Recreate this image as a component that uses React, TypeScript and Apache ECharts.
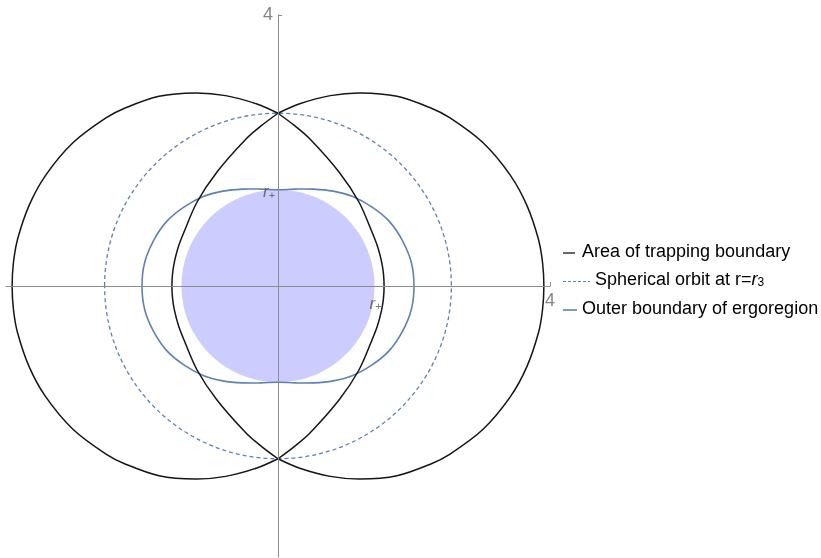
import React, { useEffect, useRef } from 'react';
import * as echarts from 'echarts';

// ---- data (units of M) ----
const axisMin = -4;
const axisMax = 4;
const tickValues = [4];
const tickLabelPoints: [number, number][] = [[4, 0], [0, 4]];
const horizonRadius = 1.42;
const sphericalOrbitRadius = 2.55;

// Right-hand trapping boundary, upper half. It is made of two arcs that meet on the
// z axis: an outer arc (from the crossing point over the top to the equator) ...
const trapOuterX = [0, 0.32, 0.77, 1.21, 1.75, 2.24, 2.53, 3.02, 3.42, 3.66, 3.83, 3.89, 3.91];
const trapOuterY = [2.55, 2.69, 2.81, 2.85, 2.8, 2.63, 2.48, 2.11, 1.63, 1.19, 0.69, 0.35, 0];
// ... and an inner arc (from the crossing point down to the equator, on the far side)
const trapInnerX = [0, -0.24, -0.47, -0.9, -1.19, -1.385, -1.465, -1.525, -1.551, -1.56];
const trapInnerY = [2.55, 2.37, 2.17, 1.68, 1.24, 0.79, 0.58, 0.35, 0.18, 0];

// Outer boundary of the ergoregion, first quadrant, from the pole to the equator
const ergoX = [0, 0.25, 0.52, 0.81, 1.1, 1.39, 1.64, 1.83, 1.96, 2.0];
const ergoY = [1.42, 1.43, 1.43, 1.4, 1.32, 1.16, 0.95, 0.67, 0.35, 0];

const legendNames = ['Area of trapping boundary', 'Spherical orbit at r=', 'Outer boundary of ergoregion'];

// ---- styles ----
const BLACK = '#151515';
const BLUE = '#5E81B5';
const DISC = '#CCCCFF';
const AXIS = '#8c8c8c';
const FONT = '"Liberation Sans", Arial, Helvetica, sans-serif';

type Pt = [number, number];

// upper-half arc mirrored to the lower half (open curve)
function mirrorArc(xs: number[], ys: number[], sign: number): Pt[] {
  const upper: Pt[] = xs.map((x, i) => [sign * x, ys[i]]);
  const lower: Pt[] = upper.slice(0, -1).reverse().map(([x, y]) => [x, -y]);
  return [...upper, ...lower];
}

function ergoLoop(): Pt[] {
  const q1: Pt[] = ergoX.map((x, i) => [x, ergoY[i]]);
  const q4: Pt[] = q1.slice(0, -1).reverse().map(([x, y]) => [x, -y]);
  const right = [...q1, ...q4];
  const left: Pt[] = right.slice(1, -1).reverse().map(([x, y]) => [-x, y]);
  return [...right, ...left];
}

function curveSeries(name: string, pts: Pt[], closed: boolean, stroke: string, lineWidth: number) {
  return {
    type: 'custom',
    name,
    silent: true,
    z: 2,
    data: [[0, 0]],
    renderItem: (_p: any, api: any) => ({
      type: closed ? 'polygon' : 'polyline',
      shape: { points: pts.map((p) => api.coord(p)), smooth: 0.33 },
      style: { fill: 'none', stroke, lineWidth, lineJoin: 'round' },
    }),
  };
}

function circleSeries(name: string, r: number, style: any, z: number) {
  return {
    type: 'custom',
    name,
    silent: true,
    z,
    data: [[0, 0]],
    renderItem: (_p: any, api: any) => {
      const c = api.coord([0, 0]);
      const s = api.size([r, r]);
      return {
        type: 'ellipse',
        shape: { cx: c[0], cy: c[1], rx: s[0], ry: s[1] },
        style,
      };
    },
  };
}

export default function App() {
  const ref = useRef<HTMLDivElement>(null);

  useEffect(() => {
    if (!ref.current) return;
    const chart = echarts.init(ref.current, undefined, { renderer: 'svg' });

    const axisCommon = {
      type: 'value',
      min: axisMin,
      max: axisMax,
      z: 3,
      splitLine: { show: false },
      axisLabel: { show: false },
      axisLine: { show: true, onZero: true, lineStyle: { color: AXIS, width: 1 } },
      axisTick: { show: true, inside: true, length: 4, customValues: tickValues, lineStyle: { color: AXIS, width: 1 } },
    };

    const rLabelRich = {
      r: { fontStyle: 'italic', fontSize: 17, color: '#555', fontFamily: FONT },
      s: { fontSize: 11, color: '#555', fontFamily: FONT, verticalAlign: 'bottom', lineHeight: 10 },
    };

    const trapSeries = [-1, 1].flatMap((sign) => [
      curveSeries(legendNames[0], mirrorArc(trapOuterX, trapOuterY, sign), false, BLACK, 1.5),
      curveSeries(legendNames[0], mirrorArc(trapInnerX, trapInnerY, sign), false, BLACK, 1.5),
    ]);

    chart.setOption({
      animation: false,
      grid: { left: 6, top: 15, width: 544, height: 542, containLabel: false, outerBoundsMode: 'none' },
      xAxis: { ...axisCommon },
      yAxis: { ...axisCommon },
      series: [
        circleSeries('Horizon', horizonRadius, { fill: DISC, stroke: 'none' }, 1),
        circleSeries(legendNames[1], sphericalOrbitRadius, { fill: 'none', stroke: BLUE, lineWidth: 1.3, lineDash: [4, 3] }, 2),
        curveSeries(legendNames[2], ergoLoop(), true, BLUE, 1.6),
        ...trapSeries,
        {
          type: 'scatter',
          silent: true,
          symbolSize: 0,
          z: 4,
          data: [
            { value: [0, horizonRadius], label: { offset: [-9, 2] } },
            { value: [horizonRadius, 0], label: { offset: [1, 17] } },
          ],
          label: {
            show: true,
            position: 'inside',
            formatter: '{r|r}{s|+}',
            rich: rLabelRich,
          },
        },
        {
          type: 'scatter',
          silent: true,
          symbolSize: 0,
          z: 4,
          data: [
            { value: tickLabelPoints[0], label: { offset: [0, 14] } },
            { value: tickLabelPoints[1], label: { offset: [-10, -1] } },
          ],
          label: {
            show: true,
            position: 'inside',
            formatter: () => String(tickValues[0]),
            color: '#666',
            fontSize: 18,
            fontFamily: FONT,
          },
        },
      ],
      graphic: [
        { type: 'line', shape: { x1: 563, y1: 253, x2: 575, y2: 253 }, style: { stroke: BLACK, lineWidth: 1.3 } },
        {
          type: 'text', x: 582, y: 250.5,
          style: { text: legendNames[0], fontSize: 18, fontFamily: FONT, fill: '#000', textVerticalAlign: 'middle' },
        },
        { type: 'line', shape: { x1: 563, y1: 281.5, x2: 590, y2: 281.5 }, style: { stroke: BLUE, lineWidth: 1.2, lineDash: [3, 2] } },
        {
          type: 'text', x: 595, y: 279,
          style: {
            text: '{n|' + legendNames[1] + '}{i|r}{s|3}',
            textVerticalAlign: 'middle',
            rich: {
              n: { fontSize: 18, fontFamily: FONT, fill: '#000' },
              i: { fontSize: 18, fontFamily: FONT, fontStyle: 'italic', fill: '#000' },
              s: { fontSize: 12, fontFamily: FONT, fill: '#000', verticalAlign: 'bottom', lineHeight: 12 },
            },
          },
        },
        { type: 'line', shape: { x1: 563, y1: 310, x2: 577, y2: 310 }, style: { stroke: BLUE, lineWidth: 1.6 } },
        {
          type: 'text', x: 582, y: 308,
          style: { text: legendNames[2], fontSize: 18, fontFamily: FONT, fill: '#000', textVerticalAlign: 'middle' },
        },
      ],
    });

    return () => chart.dispose();
  }, []);

  return <div ref={ref} style={{ position: 'fixed', left: 0, top: 0, width: 821, height: 558 }} />;
}
